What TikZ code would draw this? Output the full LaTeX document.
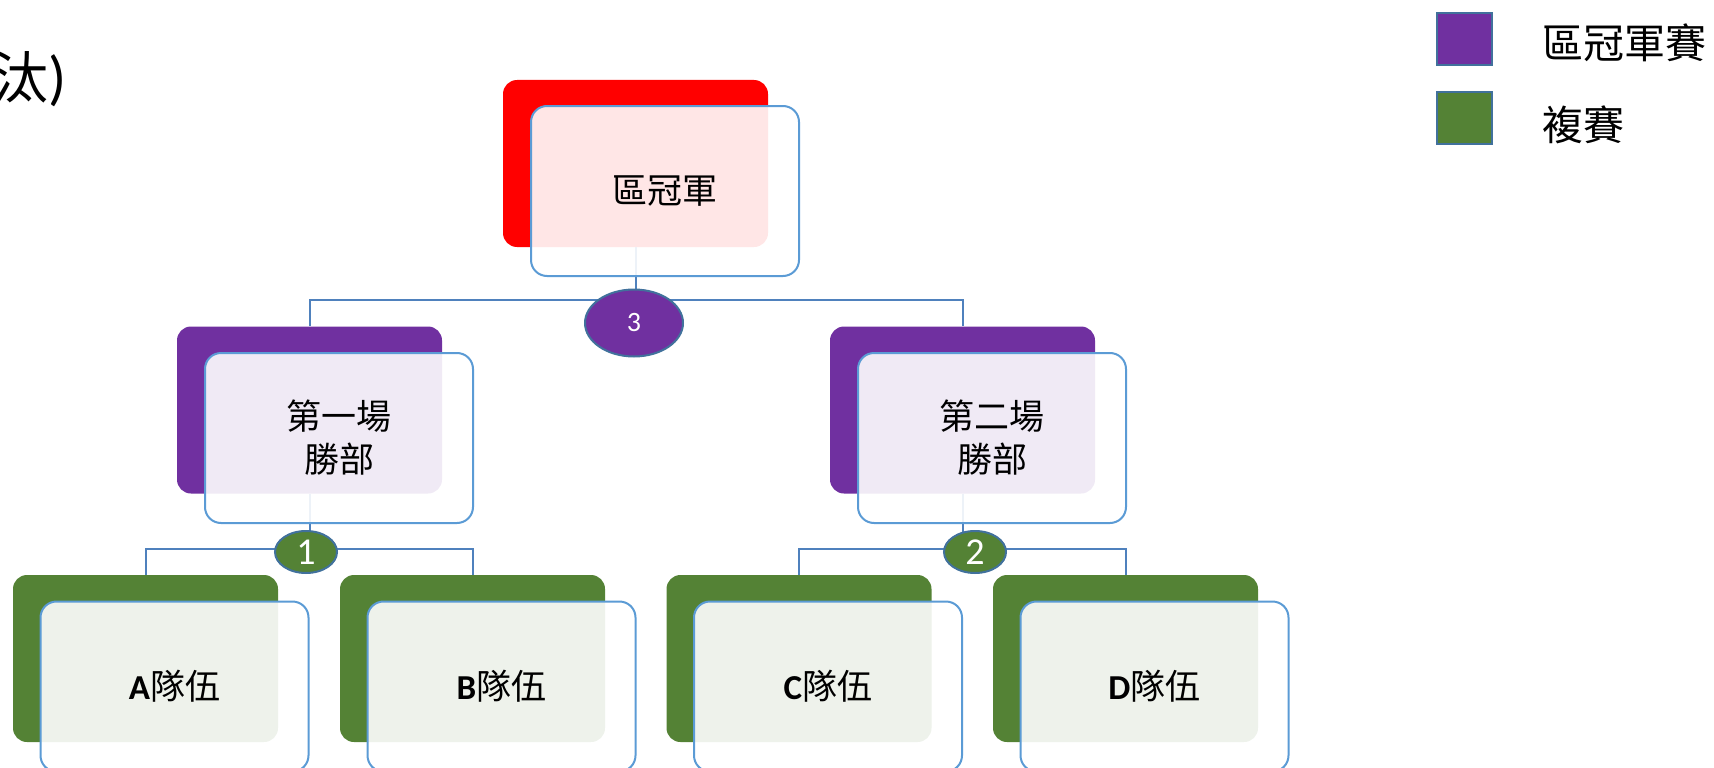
\documentclass[tikz,border=0pt]{standalone}
\usepackage{fontspec}
\setmainfont{Carlito}
\newfontfamily\cjk{Noto Sans CJK TC}
\usetikzlibrary{shapes.geometric,calc}

\definecolor{champred}{HTML}{FF0000}
\definecolor{finalpurple}{HTML}{7030A0}
\definecolor{semigreen}{HTML}{548235}
\definecolor{edgeblue}{HTML}{5B9BD5}
\definecolor{linkblue}{HTML}{4F81BD}
\definecolor{badgeblue}{HTML}{41719C}

\newcommand\team[1]{{\rmfamily\bfseries #1}隊伍}

\begin{document}
\begin{tikzpicture}
  [
    x=1pt, y=-1pt,
    back/.style =
      {rectangle, rounded corners=14pt, minimum width=265pt, minimum height=167pt, inner sep=0pt},
    front/.style =
      {draw=edgeblue, line width=2pt, fill=white, fill opacity=0.9, text opacity=1,
       rounded corners=16pt, minimum width=268pt, minimum height=170pt, align=center,
       font=\cjk\fontsize{35}{43}\selectfont},
    link/.style =
      {draw=linkblue, line width=2pt},
    badge/.style =
      {ellipse, draw=badgeblue, line width=2pt, text=white, inner sep=0pt},
    key/.style =
      {draw=badgeblue, line width=2pt, minimum width=55pt, minimum height=52pt, inner sep=0pt},
    keytext/.style =
      {anchor=west, inner sep=0pt, font=\cjk\fontsize{41}{41}\selectfont}
  ]

\useasboundingbox (0,0) rectangle (1714,768);

\node[anchor=east, inner sep=0pt, font=\cjk\fontsize{56}{56}\selectfont] (title) at (67,79) {汰{\rmfamily\fontsize{60}{60}\selectfont)}};

% back plates
\node[back, fill=champred] (champ-b) at (635.5,163.5) {};
\node[back, fill=finalpurple] (win1-b) at (309.5,410) {};
\node[back, fill=finalpurple] (win2-b) at (962.5,410) {};
\foreach \t/\x in {a/145.5, b/472.5, c/799, d/1125.5}
  \node[back, fill=semigreen] (\t-b) at (\x,658.5) {};

% connectors
\coordinate (bus3) at (0,300);
\coordinate (bus2) at (0,549);
\draw[link] (champ-b.south) -- (champ-b.south |- bus3) -| (win1-b.north);
\draw[link] (champ-b.south |- bus3) -| (win2-b.north);
\draw[link] (win1-b.south) -- (win1-b.south |- bus2) -| (a-b.north);
\draw[link] (win1-b.south |- bus2) -| (b-b.north);
\draw[link] (win2-b.south) -- (win2-b.south |- bus2) -| (c-b.north);
\draw[link] (win2-b.south |- bus2) -| (d-b.north);

% front cards
\node[front] (champ) at ($(champ-b)+(29.5,27.5)$) {區冠軍};
\node[front] (win1) at ($(win1-b)+(29.5,28)$) {第一場\\勝部};
\node[front] (win2) at ($(win2-b)+(29.5,28)$) {第二場\\勝部};
\node[front] (a) at ($(a-b)+(29,28)$) {\team{A}};
\node[front] (b) at ($(b-b)+(29,28)$) {\team{B}};
\node[front] (c) at ($(c-b)+(29,28)$) {\team{C}};
\node[front] (d) at ($(d-b)+(29,28)$) {\team{D}};

% match numbers
\node[badge, fill=finalpurple, minimum width=98pt, minimum height=67pt,
  font=\fontsize{28}{28}\selectfont] (m3) at (634,323) {3};
\node[badge, fill=semigreen, minimum width=62pt, minimum height=42pt,
  font=\fontsize{38}{38}\selectfont] (m1) at (306,552) {1};
\node[badge, fill=semigreen, minimum width=62pt, minimum height=42pt,
  font=\fontsize{38}{38}\selectfont] (m2) at (975,552) {2};

% legend
\node[key, fill=finalpurple] (key1) at (1464.5,39.5) {};
\node[key, fill=semigreen] (key2) at (1464.5,118) {};
\node[keytext] (key1-t) at ($(key1.east)+(49,3.5)$) {區冠軍賽};
\node[keytext] (key2-t) at ($(key2.east)+(49,7)$) {複賽};
\end{tikzpicture}
\end{document}
